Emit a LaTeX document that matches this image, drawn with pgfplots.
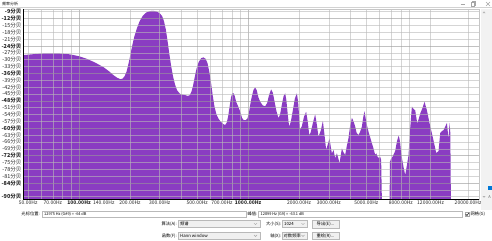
\documentclass[border=0pt]{standalone}
\usepackage{fontspec}
\usepackage{pgfplots}
\pgfplotsset{compat=1.18}
\newfontfamily\cjk{Noto Sans CJK SC}
\definecolor{specpurple}{RGB}{138,60,194}
\definecolor{winblue}{RGB}{0,120,215}
\newcommand\tkf{\cjk\fontsize{5}{6}\selectfont}
\newcommand\ykf{\cjk\fontsize{5.5}{6.5}\selectfont}
\newcommand\uif{\cjk\fontsize{4.3}{5}\selectfont}
\begin{document}
\begin{tikzpicture}
\useasboundingbox (0,0) rectangle (492bp,-241bp);
\fill[white] (0,0) rectangle (492bp,-241bp);
\begin{axis}[name=ax, at={(23bp,-199bp)}, anchor=south west,
  width=456bp, height=190bp, scale only axis,
  xmode=log, xmin=46.6, xmax=23200, ymin=-91, ymax=-7.8,
  axis on top, axis line style={gray!45, line width=0.4bp},
  tick style={draw=none}, major tick length=0pt, minor tick length=0pt,
  grid=both,
  major grid style={draw=gray!80, opacity=0.6, line width=0.5bp},
  minor grid style={draw=gray!55, opacity=0.6, line width=0.5bp},
  xtick={100,1000},
  xticklabels={\textbf{100.00Hz},\textbf{1000.00Hz}},
  minor xtick={50,60,70,80,90,200,300,400,500,600,700,800,900,2000,3000,4000,5000,6000,7000,8000,9000,12000,20000},
  extra x ticks={50,70,140,200,300,500,700,2000,3000,5000,8000,12000,20000},
  extra x tick labels={50.00Hz,70.00Hz,140.00Hz,200.00Hz,300.00Hz,500.00Hz,700.00Hz,2000.00Hz,3000.00Hz,5000.00Hz,8000.00Hz,12000.00Hz,20000.00Hz},
  extra x tick style={grid=none},
  ytick={-84,-72,-60,-48,-36,-24,-12},
  yticklabels={\textbf{-84分贝},\textbf{-72分贝},\textbf{-60分贝},\textbf{-48分贝},\textbf{-36分贝},\textbf{-24分贝},\textbf{-12分贝}},
  extra y ticks={-90,-87,-81,-78,-75,-69,-66,-63,-57,-54,-51,-45,-42,-39,-33,-30,-27,-21,-18,-15,-9},
  extra y tick labels={\textbf{-90分贝},{},-81分贝,-78分贝,-75分贝,-69分贝,-66分贝,-63分贝,-57分贝,-54分贝,-51分贝,-45分贝,-42分贝,-39分贝,-33分贝,-30分贝,-27分贝,-21分贝,-18分贝,-15分贝,\textbf{-9分贝}},
  extra y tick style={grid=major, major grid style={draw=gray!55, opacity=0.6, line width=0.5bp}},
  xticklabel style={font=\tkf, inner sep=2bp, text=black!85},
  yticklabel style={font=\ykf, inner sep=1.5bp, text=black!85},
]
\addplot[fill=specpurple, draw=none] coordinates {
(46.6,-92) (46.6,-28.0) (50,-27.8) (55,-27.5) (60,-27.3) (66,-27.2) (72,-27.2) (78,-27.3) (85,-27.5) (92,-27.9) (100,-28.5) (111,-29.6) (124,-31.2) (139,-33.2) (150,-35.0) (160,-36.8) (168,-37.9) (175,-38.5) (181,-38.3) (186,-37.2) (191,-35.2) (196,-31.8) (201,-28.0) (206,-24.0) (212,-20.0) (220,-16.2) (228,-13.2) (238,-10.8) (250,-9.3) (263,-8.7) (275,-8.6) (288,-8.9) (300,-9.7) (310,-10.9) (318,-13.2) (326,-16.8) (334,-22.0) (342,-27.5) (350,-32.5) (360,-37.5) (370,-41.0) (380,-43.4) (395,-44.9) (410,-45.3) (425,-45.5) (440,-45.9) (452,-45.5) (462,-44.0) (472,-41.5) (482,-38.0) (495,-34.0) (510,-31.0) (528,-29.3) (544,-29.0) (560,-29.6) (575,-31.5) (590,-35.5) (603,-40.0) (617,-45.5) (632,-50.5) (650,-54.0) (670,-56.0) (690,-57.2) (712,-58.2) (731,-58.6) (748,-57.5) (763,-54.5) (777,-50.5) (792,-46.5) (806,-44.8) (818,-44.6) (832,-45.8) (850,-48.5) (876,-50.7) (900,-53.0) (920,-55.5) (940,-56.4) (965,-56.5) (990,-55.8) (1010,-53.5) (1030,-49.5) (1050,-46.3) (1075,-43.3) (1100,-42.1) (1125,-43.5) (1150,-46.5) (1180,-48.5) (1220,-50.0) (1260,-50.4) (1295,-49.0) (1330,-45.5) (1368,-43.0) (1400,-44.5) (1430,-48.0) (1470,-52.5) (1511,-55.6) (1545,-54.0) (1580,-50.0) (1620,-46.0) (1656,-44.7) (1685,-48.0) (1715,-54.0) (1748,-59.3) (1790,-57.0) (1840,-52.0) (1890,-47.0) (1942,-44.7) (1975,-48.5) (2005,-55.0) (2031,-60.8) (2080,-59.0) (2140,-55.0) (2204,-52.8) (2250,-57.0) (2300,-63.0) (2340,-62.0) (2420,-57.5) (2491,-53.9) (2550,-58.5) (2606,-63.7) (2690,-61.0) (2767,-56.8) (2830,-63.0) (2894,-69.5) (2960,-67.0) (3028,-64.5) (3080,-68.0) (3128,-71.0) (3200,-69.5) (3272,-73.2) (3349,-71.0) (3410,-73.0) (3470,-75.4) (3530,-72.0) (3585,-68.8) (3660,-70.5) (3750,-71.7) (3830,-68.0) (3922,-64.4) (4010,-59.0) (4109,-55.5) (4200,-57.0) (4297,-59.3) (4380,-62.0) (4495,-63.0) (4600,-61.5) (4708,-59.3) (4800,-55.0) (4878,-52.6) (4950,-55.5) (5050,-59.0) (5150,-61.5) (5270,-64.0) (5395,-66.6) (5520,-69.0) (5643,-71.7) (5730,-71.0) (5824,-72.5) (5930,-73.0) (6041,-72.5) (6120,-74.0) (6182,-92) (6866,-92) (6900,-74.7) (7000,-73.5) (7150,-72.5) (7409,-70.0) (7580,-66.0) (7750,-63.3) (7850,-64.5) (7932,-66.5) (8030,-70.5) (8119,-73.0) (8300,-77.0) (8492,-80.5) (8700,-76.0) (8882,-72.0) (9091,-60.0) (9303,-50.5) (9500,-51.5) (9732,-52.2) (10010,-58.0) (10200,-56.0) (10440,-53.4) (10700,-51.5) (11046,-48.4) (11200,-50.0) (11400,-52.0) (11800,-57.5) (12370,-64.0) (12960,-70.9) (13370,-70.0) (13690,-62.0) (14000,-61.3) (14330,-60.8) (14990,-57.7) (15320,-65.0) (15530,-57.7) (15700,-62.0) (15820,-92)
};
\end{axis}
\draw[black, line width=0.6bp] (ax.north west) -- (ax.south west) -- (ax.south east);
\begin{scope}[x=1bp, y=-1bp]
% title bar
\node[anchor=west, font=\cjk\fontsize{4}{5}\selectfont, inner sep=0] at (2,3.5) {频率分析};
\draw[gray!35, line width=0.4] (0,7.6) -- (492,7.6);
\draw[gray!70, line width=0.4] (460.5,4) -- (465,4);
\draw[gray!70, line width=0.4] (471,2.5) rectangle (474.5,6);
\draw[gray!70, line width=0.4] (472,2.5) -- (472,1.6) -- (475.4,1.6) -- (475.4,5) -- (474.5,5);
\draw[gray!70, line width=0.4] (486,2) -- (490,6) (486,6) -- (490,2);
% right slider strip
\fill[gray!10] (481,9) rectangle (492,210);
\fill[gray!60] (482.5,13.2) -- (484,11.4) -- (485.5,13.2) -- cycle;
\fill[winblue] (487.5,186) rectangle (492,190);
\fill[gray!60] (482.5,196) -- (484,197.8) -- (485.5,196) -- cycle;
\node[font=\cjk\fontsize{4}{5}\selectfont, inner sep=0, text=gray!80!black] at (489.5,197) {A};
% row 1
\node[anchor=east, font=\uif, inner sep=0] at (40,214.2) {光标位置:};
\draw[gray!55, fill=white, line width=0.4] (42,211) rectangle (246.5,217.5);
\node[anchor=west, font=\cjk\fontsize{3.9}{4.5}\selectfont, inner sep=0] at (44,214.2) {12975 Hz (G\#9) = -64 dB};
\node[anchor=east, font=\uif, inner sep=0] at (257.5,214.2) {峰值:};
\draw[gray!55, fill=white, line width=0.4] (258,211) rectangle (462,217.5);
\node[anchor=west, font=\cjk\fontsize{3.9}{4.5}\selectfont, inner sep=0] at (260.5,214.2) {12899 Hz (G9) = -63.1 dB};
\draw[gray!70, fill=white, line width=0.4] (465,212) rectangle (469.5,216.5);
\draw[black, line width=0.5] (465.8,214.3) -- (467,215.6) -- (468.8,212.9);
\node[anchor=west, font=\uif, inner sep=0] at (470.5,214.2) {网格(G)};
% row 2
\node[anchor=east, font=\uif, inner sep=0] at (177,224) {算法(A):};
\draw[gray!55, fill=gray!12, line width=0.4] (178,220.5) rectangle (260,227.5);
\node[anchor=west, font=\uif, inner sep=0] at (180,224) {频谱};
\draw[gray!70, line width=0.4] (254,223.2) -- (255.5,224.7) -- (257,223.2);
\node[anchor=east, font=\uif, inner sep=0] at (281.5,224) {大小(S):};
\draw[gray!55, fill=gray!12, line width=0.4] (282,220.5) rectangle (307,227.5);
\node[anchor=west, font=\uif, inner sep=0] at (284,224) {1024};
\draw[gray!70, line width=0.4] (301.5,223.2) -- (303,224.7) -- (304.5,223.2);
\draw[gray!55, fill=gray!12, line width=0.4] (312,220.3) rectangle (339,227.7);
\node[font=\uif, inner sep=0] at (325.5,224) {导出(E)...};
% row 3
\node[anchor=east, font=\uif, inner sep=0] at (177,235.8) {函数(F):};
\draw[gray!55, fill=gray!12, line width=0.4] (178,232.3) rectangle (260,239.3);
\node[anchor=west, font=\uif, inner sep=0] at (180,235.8) {Hann window};
\draw[gray!70, line width=0.4] (254,235) -- (255.5,236.5) -- (257,235);
\node[anchor=east, font=\uif, inner sep=0] at (281.5,235.8) {轴(X):};
\draw[gray!55, fill=gray!12, line width=0.4] (282,232.3) rectangle (307,239.3);
\node[anchor=west, font=\uif, inner sep=0] at (283.5,235.8) {对数频率};
\draw[gray!70, line width=0.4] (301.5,235) -- (303,236.5) -- (304.5,235);
\draw[gray!55, fill=gray!12, line width=0.4] (312,232.1) rectangle (339,239.5);
\node[font=\uif, inner sep=0] at (325.5,235.8) {重绘(R)...};
\end{scope}
\end{tikzpicture}
\end{document}
